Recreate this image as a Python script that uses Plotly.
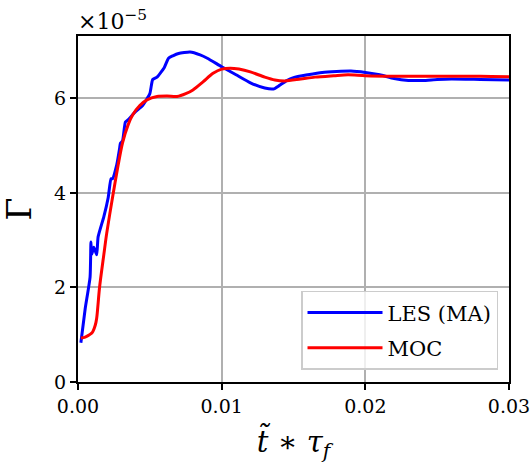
import plotly.graph_objects as go

les_t = [0.0002, 0.0005, 0.00084, 0.0009, 0.00095, 0.0011, 0.0013, 0.0014, 0.0018, 0.0021, 0.0023, 0.0024,
         0.0027, 0.0029, 0.00295, 0.0031, 0.0033, 0.0035, 0.004, 0.0045, 0.005, 0.0052, 0.0055, 0.006,
         0.0063, 0.0066, 0.007, 0.0078, 0.0085, 0.009, 0.01, 0.011, 0.012, 0.013, 0.0136, 0.014, 0.0145,
         0.015, 0.016, 0.017, 0.018, 0.019, 0.02, 0.021, 0.022, 0.023, 0.024, 0.025, 0.026, 0.028, 0.03]
les_g = [0.83, 1.55, 2.22, 2.96, 2.7, 2.85, 2.69, 3.07, 3.5, 3.9, 4.3, 4.3,
         4.6, 4.95, 5.05, 5.1, 5.5, 5.55, 5.72, 5.85, 6.1, 6.4, 6.45, 6.65,
         6.85, 6.9, 6.95, 6.98, 6.92, 6.85, 6.67, 6.5, 6.33, 6.22, 6.2, 6.27, 6.37,
         6.44, 6.5, 6.55, 6.57, 6.58, 6.55, 6.5, 6.42, 6.38, 6.38, 6.4, 6.41, 6.4, 6.39]

moc_t = [0.0002, 0.0005, 0.0008, 0.001, 0.0012, 0.0013, 0.0015, 0.0018, 0.002, 0.0024, 0.0028, 0.0031,
         0.0035, 0.0038, 0.0043, 0.0048, 0.0055, 0.0062, 0.0069, 0.0075, 0.008, 0.0087, 0.0094, 0.01,
         0.0106, 0.0112, 0.012, 0.013, 0.0137, 0.0144, 0.0155, 0.0165, 0.0178, 0.0188, 0.02, 0.022,
         0.025, 0.028, 0.03]
moc_g = [0.93, 0.95, 1.0, 1.05, 1.2, 1.35, 2.0, 2.7, 3.15, 3.9, 4.6, 5.06,
         5.45, 5.65, 5.85, 5.97, 6.04, 6.05, 6.04, 6.1, 6.18, 6.35, 6.53, 6.62,
         6.64, 6.62, 6.56, 6.45, 6.39, 6.37, 6.41, 6.45, 6.48, 6.5, 6.48, 6.47,
         6.47, 6.47, 6.46]

scale = 1e-5
fig = go.Figure()
fig.add_trace(go.Scatter(x=les_t, y=[v * scale for v in les_g], mode="lines", name="LES (MA)",
                         legendgroup="les",
                         line=dict(color="#0000ff", width=3, shape="spline", smoothing=0.5)))
fig.add_trace(go.Scatter(x=moc_t, y=[v * scale for v in moc_g], mode="lines", name="MOC",
                         legendgroup="moc",
                         line=dict(color="#ff0000", width=3, shape="spline", smoothing=0.8)))

font_family = "DejaVu Serif"
fig.update_layout(
    width=530, height=464,
    margin=dict(l=78, r=21, t=36, b=82, autoexpand=False),
    paper_bgcolor="white", plot_bgcolor="white",
    font=dict(family=font_family, size=19, color="black"),
    showlegend=True,
    legend=dict(x=0.9745, y=0.035, xanchor="right", yanchor="bottom",
                bgcolor="rgba(255,255,255,0.8)", bordercolor="#cccccc", borderwidth=1.5,
                font=dict(size=21, family=font_family), itemwidth=75, tracegroupgap=5),
    xaxis=dict(range=[0, 0.03], tickvals=[0, 0.01, 0.02, 0.03],
               ticktext=["0.00", "0.01", "0.02", "0.03"], automargin=False,
               ticklabeloverflow="allow",
               showgrid=True, gridcolor="#b0b0b0", gridwidth=1.5,
               showline=True, linecolor="black", linewidth=2, mirror=True,
               ticks="outside", ticklen=6, tickwidth=2, tickcolor="black",
               tickfont=dict(size=19, family=font_family), zeroline=False,
               title=dict(text="<i>t̃</i> ∗ <i>τ<sub>f</sub></i>", font=dict(size=29, family=font_family), standoff=16)),
    yaxis=dict(range=[0, 7.32e-5], tickvals=[0, 2e-5, 4e-5, 6e-5],
               ticktext=["0", "2", "4", "6"], automargin=False,
               showgrid=True, gridcolor="#b0b0b0", gridwidth=1.5,
               showline=True, linecolor="black", linewidth=2, mirror=True,
               ticks="outside", ticklen=6, tickwidth=2, tickcolor="black",
               tickfont=dict(size=19, family=font_family), zeroline=False,
               title=dict(text="Γ", font=dict(size=33, family=font_family), standoff=22)),
)
fig.add_annotation(text="×10<sup>−5</sup>", xref="paper", yref="paper", x=0, y=1,
                   xanchor="left", yanchor="bottom", showarrow=False, yshift=0, xshift=-2,
                   font=dict(size=22, family=font_family))

fig.write_html("out.html")
